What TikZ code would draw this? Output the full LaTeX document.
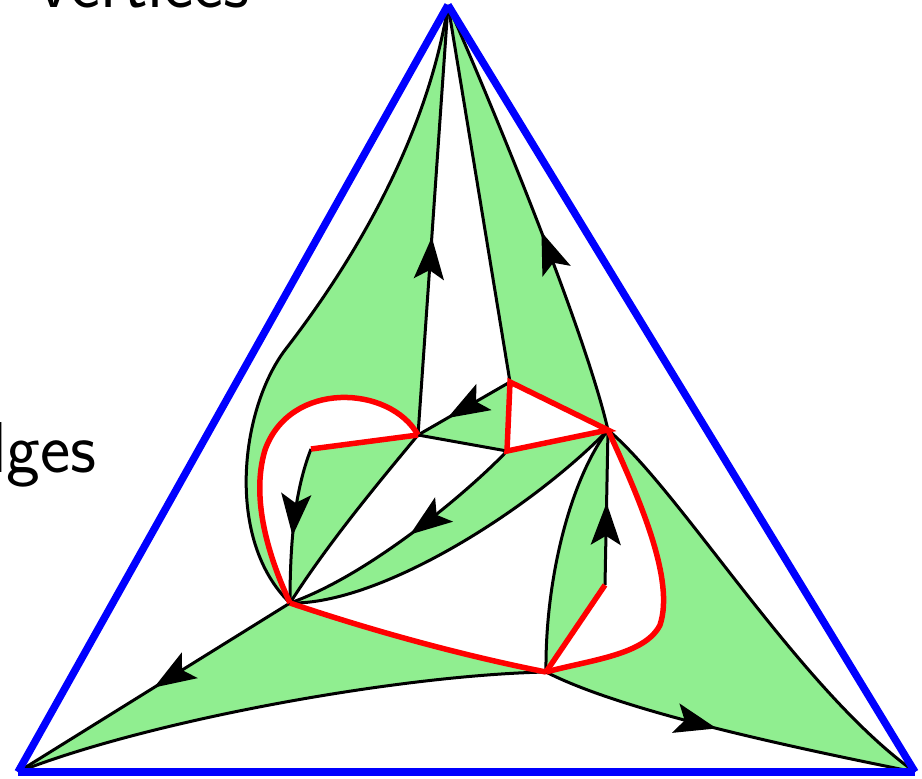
\documentclass[tikz,border=0pt]{standalone}
\usepackage{tikz}
\usetikzlibrary{arrows.meta,decorations.markings}
\definecolor{facegreen}{HTML}{90EE90}
\definecolor{loopred}{HTML}{FF0000}
\definecolor{rimblue}{HTML}{0000FF}

\begin{document}
\begin{tikzpicture}[x=1pt,y=-1pt,
    every node/.style={font=\sffamily\fontsize{72}{80}\selectfont,inner sep=0pt},
    strand/.style={line width=3pt,black},
    redcut/.style={line width=5.5pt,loopred},
    rim/.style={line width=7.5pt,rimblue},
    face/.style={fill=facegreen},
    flow/.style={postaction={decorate,decoration={markings,
        mark=at position #1 with {\arrow{Stealth[length=42pt,width=30pt,inset=9pt]}}}}}]
  \useasboundingbox (0,0) rectangle (922,779);
  % corners and inner vertices
  \coordinate (T) at (448,5);
  \coordinate (BL) at (18,772);
  \coordinate (BR) at (915,772);
  \coordinate (A) at (418,435);
  \coordinate (B) at (510,382);
  \coordinate (C) at (507,451);
  \coordinate (D) at (608,430);
  \coordinate (E) at (290,603);
  \coordinate (F) at (546,672);
  \coordinate (G) at (311,449);
  \coordinate (H) at (605,585);
  % green faces
  \fill[face] (T) .. controls (430,120) and (370,240) .. (285,350) .. controls (240,410) and (225,540) .. (E)
    .. controls (330,540) and (385,475) .. (A) -- cycle;
  \fill[white] (A) .. controls (390,385) and (290,380) .. (265,450) .. controls (250,500) and (270,560) .. (E)
    .. controls (290,540) and (295,490) .. (G) -- cycle;
  \fill[face] (A) -- (B) -- (C) -- cycle;
  \fill[face] (T) -- (B) -- (D) .. controls (585,330) and (490,100) .. (T);
  \fill[face] (C) -- (D) .. controls (530,510) and (380,605) .. (E) .. controls (370,575) and (470,490) .. (C);
  \fill[face] (D) .. controls (570,480) and (545,580) .. (F) -- (H) -- cycle;
  \fill[face] (D) .. controls (640,500) and (675,580) .. (660,625) .. controls (645,655) and (590,660) .. (F)
    .. controls (620,710) and (780,745) .. (BR) .. controls (800,690) and (680,490) .. (D);
  \fill[face] (E) .. controls (370,630) and (460,655) .. (F) .. controls (400,675) and (150,720) .. (BL) -- cycle;
  % black strands
  \draw[strand,flow=0.46] (A) -- (T);
  \draw[strand] (T) -- (B);
  \draw[strand,flow=0.46] (D) .. controls (585,330) and (490,100) .. (T);
  \draw[strand] (T) .. controls (430,120) and (370,240) .. (285,350) .. controls (240,410) and (225,540) .. (E);
  \draw[strand] (A) .. controls (385,475) and (330,540) .. (E);
  \draw[strand,flow=0.57] (G) .. controls (295,490) and (290,540) .. (E);
  \draw[strand] (A) -- (C);
  \draw[strand,flow=0.68] (B) -- (A);
  \draw[strand,flow=0.48] (C) .. controls (470,490) and (370,575) .. (E);
  \draw[strand] (D) .. controls (530,510) and (380,605) .. (E);
  \draw[strand] (D) .. controls (570,480) and (545,580) .. (F);
  \draw[strand,flow=0.53] (H) -- (D);
  \draw[strand] (D) .. controls (680,490) and (800,690) .. (BR);
  \draw[strand,flow=0.47] (F) .. controls (620,710) and (780,745) .. (BR);
  \draw[strand,flow=0.5] (E) -- (BL);
  \draw[strand] (F) .. controls (400,675) and (150,720) .. (BL);
  % red cuts
  \draw[redcut] (A) .. controls (390,385) and (290,380) .. (265,450) .. controls (250,500) and (270,560) .. (E);
  \draw[redcut] (G) -- (A);
  \draw[redcut] (B) -- (D) -- (C) -- cycle;
  \draw[redcut] (E) .. controls (370,630) and (460,655) .. (F);
  \draw[redcut] (D) .. controls (640,500) and (675,580) .. (660,625) .. controls (645,655) and (590,660) .. (F);
  \draw[redcut] (H) -- (F);
  % outer triangle
  \draw[rim] (T) -- (BL);
  \draw[rim] (BL) -- (BR);
  \draw[rim] (BR) -- (T);
  % labels
  \node[anchor=base east] (vtx) at (250,7) {vertices};
  \node[anchor=base east] (edg) at (97,472) {edges};
\end{tikzpicture}
\end{document}
